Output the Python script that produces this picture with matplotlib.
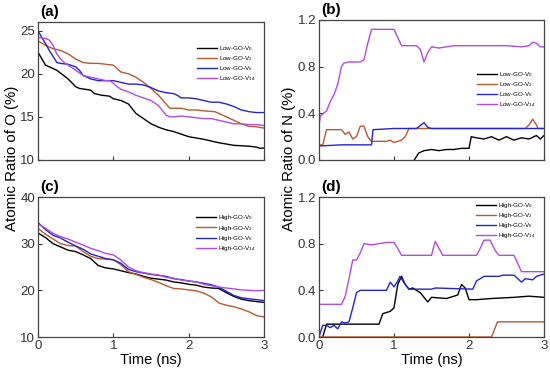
import matplotlib
matplotlib.use("Agg")
import matplotlib.pyplot as plt

plt.rcParams['font.family'] = ['Liberation Sans', 'DejaVu Sans']
plt.rcParams['mathtext.default'] = 'regular'

colors = ['#000000', '#b85a2c', '#2424d0', '#b04ae8']
subs = ['0', '2', '6', '14']

# (a) Low-GO, O ratio
a_t = [0, 0.1, 0.25, 0.4, 0.5, 0.55, 0.7, 0.75, 0.85, 0.95, 1.0, 1.1, 1.2, 1.3, 1.4, 1.5,
       1.6, 1.7, 1.8, 1.9, 2.0, 2.2, 2.4, 2.6, 2.8, 2.9, 2.95, 3.0]
a_v0 = [22.5, 21.0, 20.4, 19.4, 18.5, 18.3, 18.1, 17.7, 17.5, 17.4, 17.1, 16.9, 16.5, 15.4,
        14.8, 14.2, 13.8, 13.5, 13.3, 13.0, 12.7, 12.4, 12.0, 11.7, 11.6, 11.5, 11.35, 11.4]
a_t2 = [0, 0.1, 0.2, 0.3, 0.4, 0.5, 0.6, 0.7, 0.8, 0.9, 1.0, 1.05, 1.1, 1.2, 1.3, 1.4, 1.5,
        1.6, 1.7, 1.75, 1.8, 1.9, 2.0, 2.1, 2.2, 2.35, 2.4, 2.5, 2.6, 2.7, 2.8, 2.9, 3.0]
a_v2 = [23.8, 23.3, 22.9, 22.7, 22.3, 21.7, 21.3, 21.2, 21.2, 21.1, 21.0, 20.6, 20.2, 20.0,
        19.6, 19.0, 18.3, 17.5, 16.5, 16.0, 16.0, 16.0, 15.8, 15.8, 15.7, 15.6, 15.4, 15.0,
        14.6, 14.2, 13.9, 13.85, 13.7]
a_t6 = [0, 0.05, 0.1, 0.15, 0.25, 0.3, 0.4, 0.5, 0.55, 0.6, 0.7, 0.8, 0.9, 1.0, 1.1, 1.2,
        1.3, 1.4, 1.5, 1.6, 1.7, 1.8, 1.85, 1.9, 2.0, 2.1, 2.2, 2.3, 2.4, 2.5, 2.6, 2.7, 2.8,
        2.9, 3.0]
a_v6 = [25.0, 24.2, 23.5, 22.7, 21.3, 21.2, 21.1, 20.8, 20.4, 19.8, 19.4, 19.2, 19.2, 19.2,
        19.0, 18.8, 18.8, 18.7, 18.4, 18.0, 17.8, 17.7, 17.5, 17.2, 17.2, 17.1, 16.9, 16.7,
        16.7, 16.5, 16.2, 15.8, 15.6, 15.5, 15.5]
a_t14 = [0, 0.1, 0.15, 0.2, 0.25, 0.3, 0.35, 0.4, 0.5, 0.6, 0.7, 0.8, 0.9, 0.95, 1.0, 1.05,
         1.1, 1.2, 1.3, 1.4, 1.5, 1.6, 1.7, 1.75, 1.8, 1.9, 2.0, 2.1, 2.2, 2.3, 2.4, 2.5, 2.6,
         2.7, 2.8, 2.9, 3.0]
a_v14 = [24.2, 24.1, 23.9, 23.3, 22.3, 21.7, 21.3, 21.0, 20.4, 19.8, 19.6, 19.4, 19.2, 19.2,
         18.9, 18.5, 18.2, 17.9, 17.5, 17.2, 16.9, 16.3, 15.2, 15.0, 15.0, 15.1, 15.0, 14.9,
         14.8, 14.8, 14.6, 14.4, 14.2, 14.2, 14.1, 14.1, 14.0]

# (b) Low-GO, N ratio
b_t0 = [1.27, 1.33, 1.4, 1.5, 1.6, 1.7, 1.8, 1.9, 2.0, 2.03, 2.1, 2.2, 2.3, 2.4, 2.5, 2.6,
        2.7, 2.8, 2.9, 2.95, 3.0]
b_v0 = [0.0, 0.06, 0.08, 0.09, 0.08, 0.09, 0.09, 0.1, 0.1, 0.2, 0.19, 0.18, 0.2, 0.17, 0.2,
        0.17, 0.19, 0.18, 0.21, 0.18, 0.21]
b_t2 = [0, 0.05, 0.1, 0.3, 0.35, 0.4, 0.45, 0.5, 0.55, 0.6, 0.65, 0.7, 0.75, 0.9, 0.95, 1.0,
        1.1, 1.15, 1.2, 2.75, 2.8, 2.85, 2.9, 2.92, 3.0]
b_v2 = [0.13, 0.13, 0.26, 0.26, 0.22, 0.24, 0.18, 0.2, 0.29, 0.29, 0.2, 0.16, 0.16, 0.16,
        0.17, 0.15, 0.17, 0.2, 0.27, 0.27, 0.3, 0.35, 0.3, 0.27, 0.27]
b_t6 = [0, 0.3, 0.7, 0.72, 1.0, 1.3, 1.4, 1.45, 1.5, 3.0]
b_v6 = [0.12, 0.13, 0.13, 0.26, 0.27, 0.27, 0.32, 0.28, 0.27, 0.27]
b_t14 = [0, 0.02, 0.1, 0.15, 0.2, 0.25, 0.3, 0.33, 0.4, 0.5, 0.55, 0.6, 0.65, 0.7, 0.8, 0.9,
         1.0, 1.05, 1.1, 1.2, 1.3, 1.35, 1.4, 1.45, 1.5, 1.6, 1.7, 1.8, 2.0, 2.2, 2.5, 2.7,
         2.8, 2.85, 2.9, 2.95, 3.0]
b_v14 = [0.3, 0.38, 0.42, 0.5, 0.56, 0.65, 0.8, 0.83, 0.84, 0.84, 0.84, 0.86, 1.0, 1.12,
         1.12, 1.12, 1.12, 1.05, 0.98, 0.98, 0.98, 0.95, 0.84, 0.92, 0.97, 0.96, 0.97, 0.98,
         0.98, 0.98, 0.98, 0.97, 0.98, 1.01, 1.0, 0.97, 0.97]

# (c) High-GO, O ratio
c_t = [0, 0.1, 0.2, 0.3, 0.4, 0.5, 0.6, 0.7, 0.8, 0.9, 1.0, 1.1, 1.2, 1.3, 1.4, 1.5, 1.6,
       1.7, 1.8, 1.9, 2.0, 2.1, 2.2, 2.3, 2.4, 2.5, 2.6, 2.7, 2.8, 2.9, 3.0]
c_v0 = [32.3, 31.3, 30.0, 29.3, 28.6, 28.3, 27.6, 26.8, 25.3, 24.8, 24.6, 24.2, 23.8, 23.5,
        23.0, 22.6, 22.4, 22.2, 21.8, 21.6, 21.3, 21.1, 20.7, 20.5, 20.4, 19.5, 18.7, 18.1,
        17.8, 17.6, 17.4]
c_v2 = [33.3, 32.0, 31.0, 30.0, 29.6, 29.5, 28.3, 27.3, 26.8, 26.7, 26.6, 25.5, 24.0, 23.4,
        22.8, 22.3, 21.7, 21.0, 20.4, 20.3, 20.1, 19.9, 19.4, 18.6, 17.3, 16.8, 16.5, 16.0,
        15.4, 14.6, 14.3]
c_v6 = [34.5, 33.0, 31.8, 31.2, 30.3, 29.5, 28.8, 27.8, 27.3, 26.8, 26.5, 25.8, 24.5, 24.0,
        23.7, 23.4, 23.2, 23.0, 22.5, 22.3, 22.0, 21.8, 21.5, 21.2, 20.7, 19.8, 18.9, 18.4,
        18.2, 18.0, 17.8]
c_v14 = [34.2, 33.3, 32.2, 31.5, 31.0, 30.3, 29.7, 29.0, 28.5, 27.9, 27.6, 26.5, 25.0, 24.2,
         23.8, 23.5, 23.3, 22.8, 22.6, 22.2, 22.0, 21.8, 21.3, 21.0, 20.7, 20.5, 20.3, 20.1,
         20.0, 19.9, 20.0]

# (d) High-GO, N ratio
d_t0 = [0.05, 0.1, 0.5, 0.8, 0.85, 0.95, 1.0, 1.05, 1.1, 1.15, 1.2, 1.25, 1.35, 1.45, 1.5,
        1.7, 1.85, 1.9, 1.95, 2.0, 2.1, 2.3, 2.6, 2.8, 3.0]
d_v0 = [0.0, 0.11, 0.11, 0.11, 0.2, 0.22, 0.25, 0.45, 0.52, 0.45, 0.41, 0.42, 0.38, 0.3,
        0.34, 0.33, 0.36, 0.45, 0.42, 0.32, 0.32, 0.33, 0.34, 0.35, 0.34]
d_t2 = [0, 2.3, 2.38, 3.0]
d_v2 = [0.0, 0.0, 0.13, 0.13]
d_t6 = [0, 0.05, 0.1, 0.15, 0.2, 0.25, 0.3, 0.35, 0.4, 0.45, 0.5, 0.55, 0.9, 0.95, 1.0, 1.05,
        1.08, 1.15, 1.2, 1.5, 1.55, 2.05, 2.1, 2.2, 2.3, 2.4, 2.45, 2.6, 2.7, 2.75, 2.85, 2.9,
        3.0]
d_v6 = [0.0, 0.1, 0.1, 0.08, 0.1, 0.07, 0.13, 0.12, 0.13, 0.25, 0.38, 0.4, 0.4, 0.47, 0.43,
        0.48, 0.52, 0.45, 0.41, 0.41, 0.42, 0.41, 0.48, 0.52, 0.52, 0.52, 0.53, 0.53, 0.47,
        0.5, 0.49, 0.52, 0.54]
d_t14 = [0, 0.3, 0.35, 0.4, 0.45, 0.5, 0.55, 0.6, 0.7, 0.8, 0.9, 1.0, 1.05, 1.1, 1.5, 1.55,
         1.6, 1.65, 2.1, 2.15, 2.2, 2.28, 2.35, 2.4, 2.6, 2.7, 3.0]
d_v14 = [0.28, 0.28, 0.35, 0.5, 0.66, 0.66, 0.72, 0.8, 0.79, 0.8, 0.81, 0.81, 0.76, 0.7,
         0.7, 0.82, 0.76, 0.7, 0.7, 0.76, 0.83, 0.83, 0.74, 0.7, 0.7, 0.56, 0.56]

panels = [
    ('(a)', 'Low', [(a_t, a_v0), (a_t2, a_v2), (a_t6, a_v6), (a_t14, a_v14)],
     (10, 26), [10, 15, 20, 25], ['10', '15', '20', '25']),
    ('(b)', 'Low', [(b_t0, b_v0), (b_t2, b_v2), (b_t6, b_v6), (b_t14, b_v14)],
     (0, 1.2), [0, 0.4, 0.8, 1.2], ['0.0', '0.4', '0.8', '1.2']),
    ('(c)', 'High', [(c_t, c_v0), (c_t, c_v2), (c_t, c_v6), (c_t, c_v14)],
     (10, 40), [10, 20, 30, 40], ['10', '20', '30', '40']),
    ('(d)', 'High', [(d_t0, d_v0), (d_t2, d_v2), (d_t6, d_v6), (d_t14, d_v14)],
     (0, 1.2), [0, 0.4, 0.8, 1.2], ['0.0', '0.4', '0.8', '1.2']),
]

# axes boxes in pixels: left, top, right, bottom
boxes = [(38, 22, 264, 160), (319, 20, 544, 160), (38, 197, 264, 337), (319, 197, 544, 337)]
legend_pos = [(0.98, 0.87), (0.98, 0.67), (0.98, 0.91), (0.98, 1.0)]

W, H = 550, 370
fig = plt.figure(figsize=(W / 100, H / 100), dpi=100)

for i, (lab, grp, series, ylim, yt, ytl) in enumerate(panels):
    l, t, r, b = boxes[i]
    ax = fig.add_axes([l / W, 1 - b / H, (r - l) / W, (b - t) / H])
    for (x, y), c, s in zip(series, colors, subs):
        ax.plot(x, y, color=c, lw=1.0, label=grp + '-GO-V$_{' + s + '}$')
    ax.set_xlim(0, 3)
    ax.set_ylim(*ylim)
    ax.set_yticks(yt)
    ax.set_yticklabels(ytl)
    ax.set_xticks([0, 1, 2, 3])
    ax.tick_params(direction='in', length=3, width=0.8, labelsize=9.5, colors='#333333',
                   pad=2)
    if i < 2:
        ax.tick_params(labelbottom=False)
    else:
        ax.set_xlabel('Time (ns)', fontsize=10.5, labelpad=1)
    for sp in ax.spines.values():
        sp.set_color('#444444')
        sp.set_linewidth(0.9)
    ax.legend(loc='upper right', bbox_to_anchor=legend_pos[i], frameon=False, fontsize=4.5,
              handlelength=3.2, handletextpad=0.4, labelspacing=0.2, borderaxespad=0.2)
    fig.text((l + 2) / W, 1 - (t - 10) / H, lab, fontsize=11, fontweight='bold',
             ha='left', va='center')

fig.text(12 / W, 1 - 158 / H, 'Atomic Ratio of O (%)', rotation=90, fontsize=10.8,
         ha='center', va='center')
fig.text(289 / W, 1 - 159 / H, 'Atomic Ratio of N (%)', rotation=90, fontsize=10.8,
         ha='center', va='center')

fig.savefig('out.png', dpi=100)
